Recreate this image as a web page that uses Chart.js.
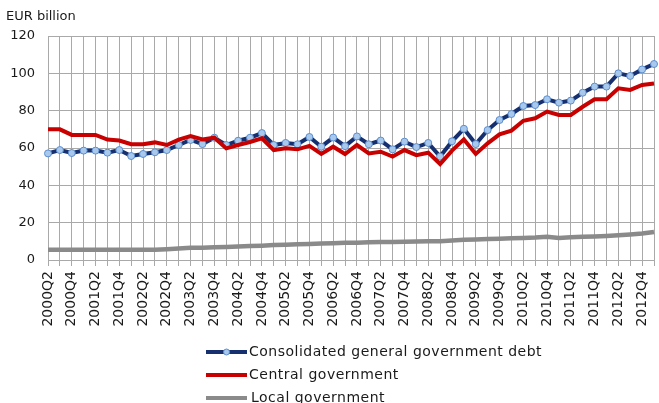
<!DOCTYPE html>
<html>
<head>
<meta charset="utf-8">
<script src="https://cdn.jsdelivr.net/npm/chart.js@4.4.0/dist/chart.umd.min.js"></script>
<style>
html,body{margin:0;padding:0;background:#fff;overflow:hidden}
</style>
</head>
<body>
<canvas id="debtChart" width="659" height="403"></canvas>
<script>
'use strict'
// quarters, last one is cut off at the right edge of the picture
let quarters=['2000Q2','2000Q3','2000Q4','2001Q1','2001Q2','2001Q3','2001Q4','2002Q1','2002Q2','2002Q3','2002Q4',
'2003Q1','2003Q2','2003Q3','2003Q4','2004Q1','2004Q2','2004Q3','2004Q4','2005Q1','2005Q2','2005Q3','2005Q4',
'2006Q1','2006Q2','2006Q3','2006Q4','2007Q1','2007Q2','2007Q3','2007Q4','2008Q1','2008Q2','2008Q3','2008Q4',
'2009Q1','2009Q2','2009Q3','2009Q4','2010Q1','2010Q2','2010Q3','2010Q4','2011Q1','2011Q2','2011Q3','2011Q4',
'2012Q1','2012Q2','2012Q3','2012Q4','2013Q1']

let consolidated=[57.1,58.9,57.3,58.6,58.6,57.5,58.9,55.7,56.8,57.7,58.9,
61.6,64.3,62.1,65.5,61.6,63.9,65.5,68.0,61.6,62.7,62.0,65.9,
60.7,65.6,61.0,66.2,62.0,64.0,59.3,63.4,60.5,62.7,55.4,63.6,
70.3,62.1,69.6,75.0,78.2,82.5,83.0,86.1,84.3,85.4,89.6,92.9,
92.9,100.0,98.6,102.1,105.0]

let central=[70.0,70.0,67.0,67.0,67.0,64.5,64.0,62.0,62.0,63.0,61.6,
64.5,66.4,64.6,65.5,59.8,61.6,63.2,65.2,58.9,59.8,59.3,61.1,
56.8,60.7,56.8,61.6,57.1,58.0,55.4,58.9,56.2,57.5,51.4,58.6,
64.6,56.8,62.5,67.3,69.3,74.6,75.9,79.5,77.7,77.7,82.1,86.1,
86.1,92.0,91.1,93.8,94.6]

let local=[5.5,5.5,5.5,5.5,5.5,5.5,5.5,5.5,5.5,5.5,5.8,
6.2,6.5,6.6,6.8,7.0,7.2,7.5,7.7,8.0,8.2,8.4,8.6,
8.8,9.0,9.2,9.3,9.5,9.6,9.7,9.8,9.9,10.0,10.1,10.5,
10.8,11.0,11.2,11.4,11.6,11.8,12.0,12.5,11.8,12.2,12.4,12.6,
12.9,13.3,13.7,14.2,15.0]

let seriesNames=['Consolidated general government debt','Central government','Local government']
let yTicks=[0,20,40,60,80,100,120]
let unitLabel='EUR billion'

let navy='#16306f'
let red='#c80000'
let grey='#8a8a8a'
let gridCol='#a9a9a9'
let txtCol='#1a1a1a'

let titlePlugin={
  id:'unitTitle',
  afterDraw(chart){
    let ctx=chart.ctx
    ctx.save()
    ctx.font='13px "DejaVu Sans"'
    ctx.fillStyle=txtCol
    ctx.textBaseline='middle'
    ctx.fillText(unitLabel,6,17)
    ctx.restore()
  }
}

// legend stacked in rows under the axis labels
let legendPlugin={
  id:'rowLegend',
  afterDraw(chart){
    let ctx=chart.ctx
    let rows=[352,375,398]
    let cols=[navy,red,grey]
    ctx.save()
    ctx.font='14px "DejaVu Sans"'
    ctx.letterSpacing='0.5px'
    ctx.textBaseline='middle'
    for(let i=0;i<seriesNames.length;i++){
      let y=rows[i]
      ctx.strokeStyle=cols[i]
      ctx.lineWidth=4
      ctx.beginPath()
      ctx.moveTo(206,y)
      ctx.lineTo(247,y)
      ctx.stroke()
      if(i==0){
        ctx.beginPath()
        ctx.arc(226.5,y,3,0,Math.PI*2)
        ctx.fillStyle='#a9c9ec'
        ctx.fill()
        ctx.lineWidth=1
        ctx.strokeStyle='#5b8ed0'
        ctx.stroke()
      }
      ctx.fillStyle=txtCol
      ctx.fillText(seriesNames[i],i==2?251:249,y)
    }
    ctx.restore()
  }
}

let ctx=document.getElementById('debtChart').getContext('2d')
let debtChart=new Chart(ctx,{
  type:'line',
  data:{
    labels:quarters,
    datasets:[{
      label:seriesNames[0],
      data:consolidated,
      borderColor:navy,
      borderWidth:4,
      pointRadius:3.5,
      pointBackgroundColor:'#a9c9ec',
      pointBorderColor:'#5b8ed0',
      pointBorderWidth:1,
      tension:0,
      order:1
    },{
      label:seriesNames[1],
      data:central,
      borderColor:red,
      borderWidth:4,
      pointRadius:0,
      tension:0,
      order:0
    },{
      label:seriesNames[2],
      data:local,
      borderColor:grey,
      borderWidth:4.5,
      pointRadius:0,
      tension:0,
      order:2
    }]
  },
  options:{
    responsive:false,
    animation:false,
    devicePixelRatio:1,
    layout:{padding:{top:36,left:0,right:0,bottom:0}},
    plugins:{legend:{display:false},tooltip:{enabled:false}},
    scales:{
      x:{
        grid:{color:gridCol,tickLength:6,lineWidth:1},
        border:{color:gridCol},
        ticks:{
          autoSkip:false,minRotation:90,maxRotation:90,padding:5,
          color:txtCol,font:{family:'DejaVu Sans',size:14},
          callback:function(v,i){return i%2==0?this.getLabelForValue(v):''}
        },
        afterFit(s){s.height=143;s.paddingLeft=0;s.paddingRight=0}
      },
      y:{
        min:yTicks[0],max:yTicks[yTicks.length-1],
        grid:{color:gridCol,drawTicks:false,lineWidth:1},
        border:{color:gridCol},
        ticks:{stepSize:20,padding:13,color:txtCol,font:{family:'DejaVu Sans',size:13}},
        afterFit(s){s.width=48}
      }
    }
  },
  plugins:[titlePlugin,legendPlugin]
})
</script>
</body>
</html>
